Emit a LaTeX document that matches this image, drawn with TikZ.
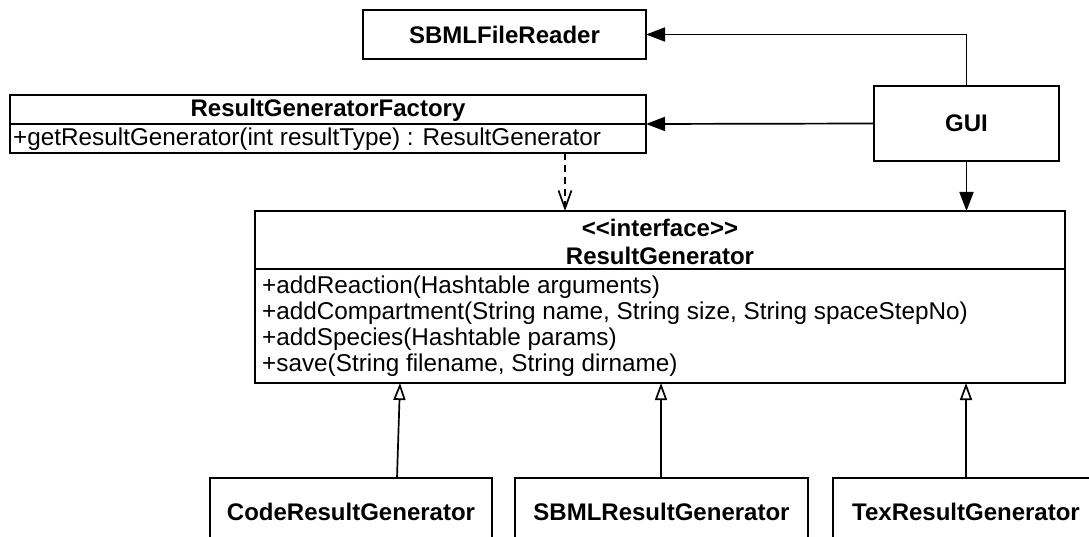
\documentclass[tikz,border=0pt]{standalone}
\usepackage{fontspec}
\setmainfont{Liberation Sans}
\usetikzlibrary{arrows.meta}

\tikzset{
  box/.style={draw, line width=2pt, inner sep=0pt, outer sep=0pt},
  classname/.style={font=\bfseries\fontsize{24}{28}\selectfont, inner sep=0pt},
  member/.style={font=\fontsize{24.3}{26}\selectfont, anchor=west, inner sep=0pt},
  divider/.style={line width=2pt},
  assoc/.style={line width=1.7pt, -{Triangle[length=19pt, width=14pt]}},
  depend/.style={line width=1.7pt, dash pattern=on 7pt off 5pt,
    -{Straight Barb[length=18pt, width=13pt]}},
  realize/.style={line width=1.7pt,
    -{Triangle[open, fill=white, length=17pt, width=12pt]}},
}

\begin{document}
\begin{tikzpicture}[x=1pt, y=-1pt]
\useasboundingbox (0,0) rectangle (1089,537);
\clip (0,0) rectangle (1089,537);

% plain classes
\node[box, classname, minimum width=283pt, minimum height=49pt] (reader) at (504.5,34.5) {SBMLFileReader};
\node[box, classname, minimum width=185pt, minimum height=75pt] (gui) at (966.5,123.5) {GUI};

% factory class with one operation
\node[box, minimum width=636pt, minimum height=58pt] (factory) at (328,124) {};
\draw[divider] (factory.west) -- (factory.east);
\node[classname] (factoryname) at (328,110) {ResultGeneratorFactory};
\node[member] (factoryop) at (13,139) {+getResultGenerator(int resultType) : ResultGenerator};

% interface with its operations
\node[box, minimum width=810pt, minimum height=172pt] (rg) at (660,297) {};
\coordinate (rgdiv) at (0,269);
\draw[divider] (rg.west |- rgdiv) -- (rg.east |- rgdiv);
\node[classname] (stereo) at (660,228) {{<}{<}interface{>}{>}};
\node[classname] (rgname) at (660,256) {ResultGenerator};
\node[member] (op1) at (262,287) {+addReaction(Hashtable arguments)};
\node[member] (op2) at (262,313) {+addCompartment(String name, String size, String spaceStepNo)};
\node[member] (op3) at (262,339) {+addSpecies(Hashtable params)};
\node[member] (op4) at (262,365) {+save(String filename, String dirname)};

% implementations
\node[box, classname, minimum width=282pt, minimum height=67pt] (code) at (351,511.5) {CodeResultGenerator};
\node[box, classname, minimum width=293pt, minimum height=67pt] (sbml) at (661.5,511.5) {SBMLResultGenerator};
\node[box, classname, minimum width=266pt, minimum height=67pt] (tex) at (966,511.5) {TexResultGenerator};

% associations
\draw[assoc] (gui.north) |- (reader.east);
\draw[assoc] (gui.west) -- (factory.east);
\draw[assoc] (gui.south) -- (rg.north -| gui.south);

% dependency
\draw[depend] (factory.south -| 565,0) -- (rg.north -| 565,0);

% realizations
\draw[realize] (code.north -| 397,0) -- (rg.south -| 400,0);
\draw[realize] (sbml.north -| 661,0) -- (rg.south -| 661,0);
\draw[realize] (tex.north) -- (rg.south -| tex.north);
\end{tikzpicture}
\end{document}
